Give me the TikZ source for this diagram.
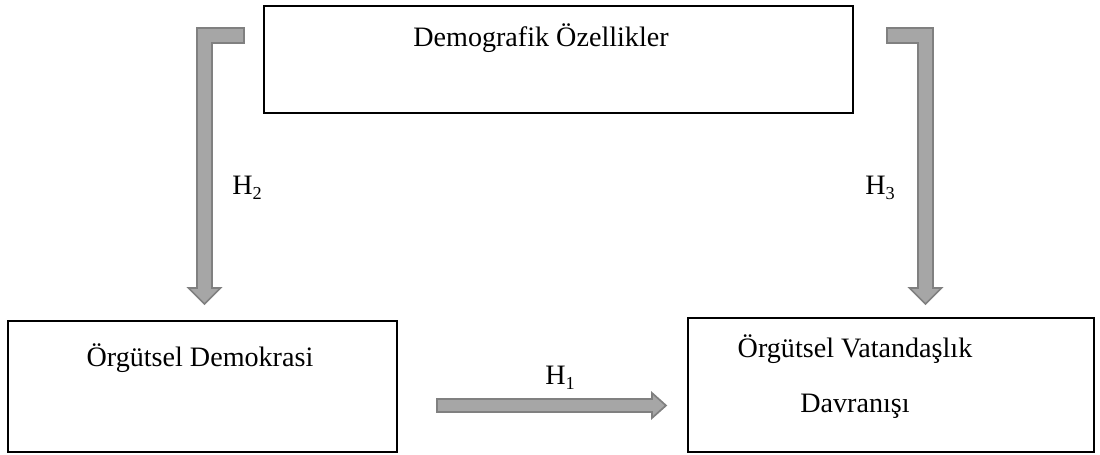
\documentclass[tikz,border=0pt]{standalone}
\usepackage{fontspec}
\setmainfont{Liberation Serif}
\usepackage{tikz}
\usetikzlibrary{positioning, calc}
\definecolor{arrowfill}{HTML}{A6A6A6}
\definecolor{arrowline}{HTML}{808080}
\newcommand{\Hsub}[1]{H\raisebox{-0.35ex}{\fontsize{13}{13}\selectfont #1}}

\begin{document}
\begin{tikzpicture}[
  box/.style={draw=black, line width=0.8pt, inner sep=0pt},
  txt/.style={font=\fontsize{20}{39}\selectfont, inner sep=0pt},
  blockarrow/.style={fill=arrowfill, draw=arrowline, line width=1.2pt, line join=miter}]
\useasboundingbox (0,0) rectangle (27.5,-11.375);
% boxes
\node[box, minimum width=14.725cm, minimum height=2.675cm] (demo) at (13.9625,-1.4875) {};
\node[box, minimum width=9.725cm, minimum height=3.275cm] (demokrasi) at (5.0625,-9.6625) {};
\node[box, minimum width=10.15cm, minimum height=3.35cm] (vatandas) at (22.275,-9.625) {};
\node[txt] (demotxt) at (13.525,-0.95) {Demografik Özellikler};
\node[txt] (demokrasitxt) at (5.0,-8.95) {Örgütsel Demokrasi};
\node[txt, align=center] (vatandastxt) at (21.375,-9.4125) {Örgütsel Vatandaşlık\\Davranışı};
% arrow ends
\coordinate (h2s) at (6.1,-0.8875);
\coordinate (h2t) at (5.1125,-7.6);
\coordinate (h3s) at (22.175,-0.8875);
\coordinate (h3t) at (23.1375,-7.6);
\coordinate (h1s) at (10.925,-10.1375);
\coordinate (h1t) at (16.65,-10.1375);
% H2
\draw[blockarrow] ($(h2s)+(0,0.1875)$) -- ($(h2t|-h2s)+(-0.1875,0.1875)$) -- ($(h2t)+(-0.1875,0.4)$)
  -- ($(h2t)+(-0.4,0.4)$) -- (h2t) -- ($(h2t)+(0.4,0.4)$) -- ($(h2t)+(0.1875,0.4)$)
  -- ($(h2t|-h2s)+(0.1875,-0.1875)$) -- ($(h2s)+(0,-0.1875)$) -- cycle;
% H3
\draw[blockarrow] ($(h3s)+(0,0.1875)$) -- ($(h3t|-h3s)+(0.1875,0.1875)$) -- ($(h3t)+(0.1875,0.4)$)
  -- ($(h3t)+(0.4,0.4)$) -- (h3t) -- ($(h3t)+(-0.4,0.4)$) -- ($(h3t)+(-0.1875,0.4)$)
  -- ($(h3t|-h3s)+(-0.1875,-0.1875)$) -- ($(h3s)+(0,-0.1875)$) -- cycle;
% H1
\draw[blockarrow] ($(h1s)+(0,0.1625)$) -- ($(h1t)+(-0.35,0.1625)$) -- ($(h1t)+(-0.35,0.3125)$)
  -- (h1t) -- ($(h1t)+(-0.35,-0.3125)$) -- ($(h1t)+(-0.35,-0.1625)$) -- ($(h1s)+(0,-0.1625)$) -- cycle;
% labels
\node[txt] (h1) at (14.0,-9.45) {\Hsub{1}};
\node[txt] (h2) at (6.175,-4.7) {\Hsub{2}};
\node[txt] (h3) at (22.0,-4.7) {\Hsub{3}};
\end{tikzpicture}
\end{document}
